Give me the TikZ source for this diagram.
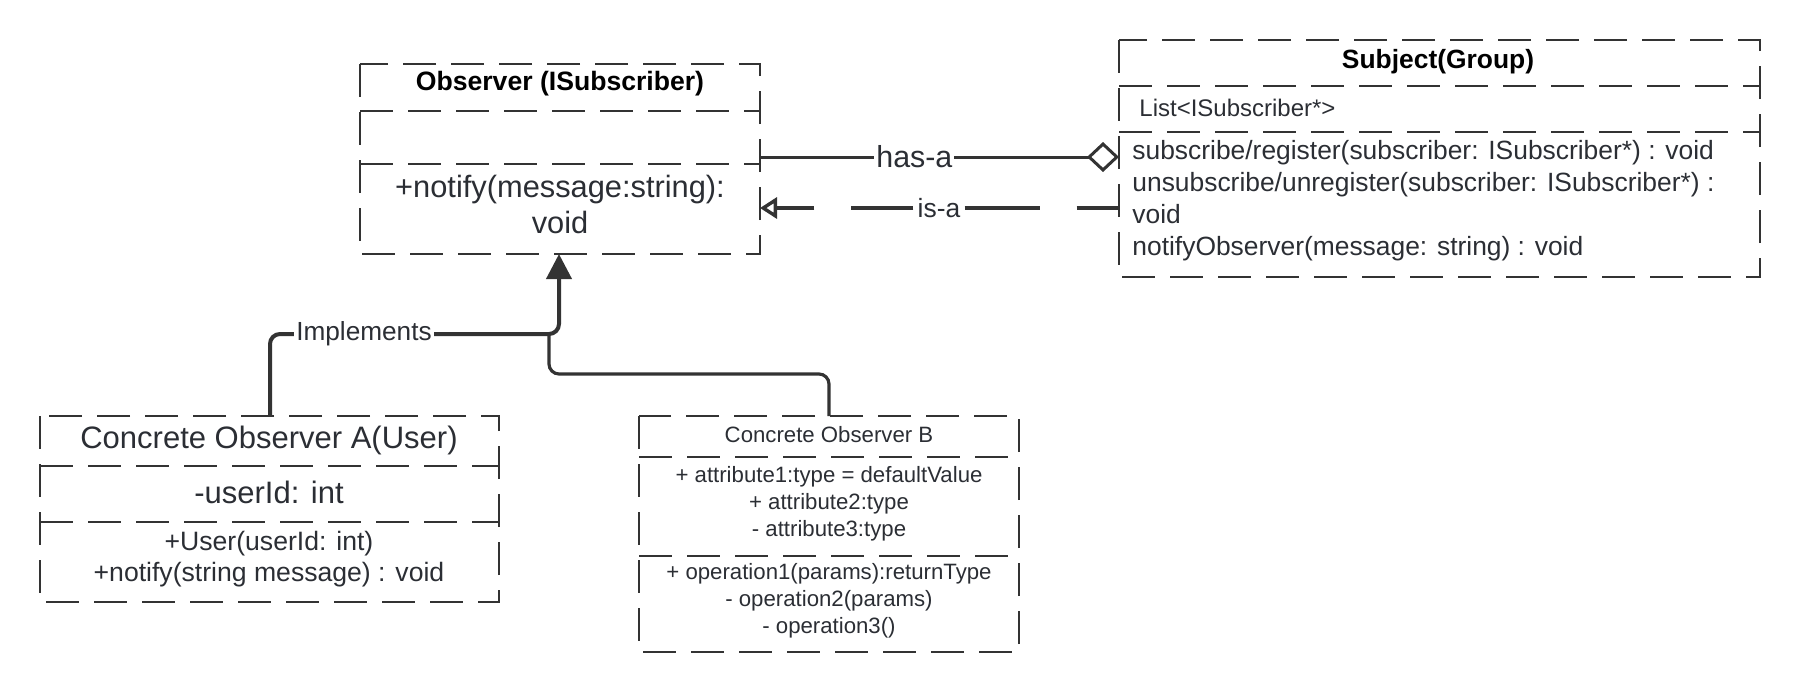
\documentclass[tikz,border=0pt]{standalone}
\usepackage{fontspec}
\setmainfont{Liberation Sans}
\usetikzlibrary{arrows.meta}
\definecolor{ink}{HTML}{333333}
\definecolor{txt}{HTML}{2B2E34}
\newcommand{\fsz}[2]{\fontsize{#1pt}{#2pt}\selectfont}

\begin{document}
\begin{tikzpicture}[x=0.5pt,y=-0.5pt,
  box/.style={draw=ink,line width=0.8pt,dash pattern=on 16.5pt off 7.5pt},
  lbl/.style={text=txt,inner sep=0pt,align=center},
  tag/.style={text=txt,fill=white,inner sep=1pt},
  link/.style={draw=ink,line width=2pt,rounded corners=5pt}]
  \useasboundingbox (0,0) rectangle (1800,692);
  % 接口 Observer
  \coordinate (obsA) at (360,64);
  \coordinate (obsB) at (760,254);
  \draw[box] (obsA) rectangle (obsB);
  \draw[box] (360,111) -- (760,111);
  \draw[box] (360,164) -- (760,164);
  \node[lbl,text=black,font=\bfseries\fsz{13.3}{16}] (obsT) at (560,84) {Observer (ISubscriber)};
  \node[lbl,font=\fsz{15.4}{18}] (obsM) at (560,204) {+notify(message:string):\\void};
  % Subject
  \coordinate (subA) at (1119,40);
  \coordinate (subB) at (1760,277);
  \draw[box] (subA) rectangle (subB);
  \draw[box] (1119,86) -- (1760,86);
  \draw[box] (1119,132) -- (1760,132);
  \node[lbl,text=black,font=\bfseries\fsz{13.2}{16}] (subT) at (1438,62) {Subject(Group)};
  \node[lbl,anchor=west,font=\fsz{12}{14}] (subF) at (1139,108) {List<ISubscriber*>};
  \node[lbl,anchor=west,align=left,font=\fsz{13.2}{16}] (subM) at (1132,201)
    {subscribe/register(subscriber: ISubscriber*) : void\\
     unsubscribe/unregister(subscriber: ISubscriber*) :\\
     void\\
     notifyObserver(message: string) : void};
  % Concrete Observer A
  \coordinate (uA) at (40,416);
  \coordinate (uB) at (499,602);
  \draw[box] (uA) rectangle (uB);
  \draw[box] (40,466) -- (499,466);
  \draw[box] (40,522) -- (499,522);
  \node[lbl,font=\fsz{15.5}{18}] (uT) at (269,440) {Concrete Observer A(User)};
  \node[lbl,font=\fsz{15.5}{18}] (uF) at (269,492) {-userId: int};
  \node[lbl,font=\fsz{13.3}{15.5}] (uM) at (269,559) {+User(userId: int)\\+notify(string message) : void};
  % Concrete Observer B
  \coordinate (bA) at (639,416);
  \coordinate (bB) at (1019,652);
  \draw[box] (bA) rectangle (bB);
  \draw[box] (639,457) -- (1019,457);
  \draw[box] (639,556) -- (1019,556);
  \node[lbl,font=\fsz{11.1}{13.5}] (bT) at (829,435) {Concrete Observer B};
  \node[lbl,font=\fsz{11.1}{13.5}] (bF) at (829,504)
    {+ attribute1:type = defaultValue\\+ attribute2:type\\- attribute3:type};
  \node[lbl,font=\fsz{11.1}{13.5}] (bM) at (829,601)
    {+ operation1(params):returnType\\- operation2(params)\\- operation3()};
  % has-a
  \coordinate (hasL) at (760,157);
  \coordinate (hasR) at (1119,157);
  \draw[draw=ink,line width=1.5pt,-{Diamond[open,length=16pt,width=15pt]}] (hasL) --
    node[tag,pos=0.43,font=\fsz{15.2}{18}] (hasT) {has-a} (hasR);
  % is-a（虚线，标签两侧各画一段）
  \coordinate (isL) at (760,208);
  \coordinate (isR) at (1119,208);
  \node[tag,inner sep=2pt,font=\fsz{13.2}{16}] (isT) at (939,208) {is-a};
  \draw[draw=ink,line width=1.7pt,dash pattern=on 37.5pt off 18.5pt] (isT.east) -- (isR);
  \draw[draw=ink,line width=1.7pt,dash pattern=on 31pt off 18.5pt,
    -{Triangle[open,length=8.5pt,width=10.5pt]}] (isT.west) -- (isL);
  % Implements
  \coordinate (uTop) at (270,416);
  \coordinate (bTop) at (829,416);
  \coordinate (obsTip) at (559,254);
  \coordinate (join) at (549,334);
  \node[tag,font=\fsz{13.1}{16}] (impl) at (364,334) {Implements};
  \draw[link] (uTop) |- (impl.west);
  \draw[link,-{Triangle[length=12.5pt,width=12.5pt]}] (impl.east) -| (obsTip);
  \draw[link,line width=1.6pt] (bTop) -- ++(0,-42) -| (join);
\end{tikzpicture}
\end{document}
